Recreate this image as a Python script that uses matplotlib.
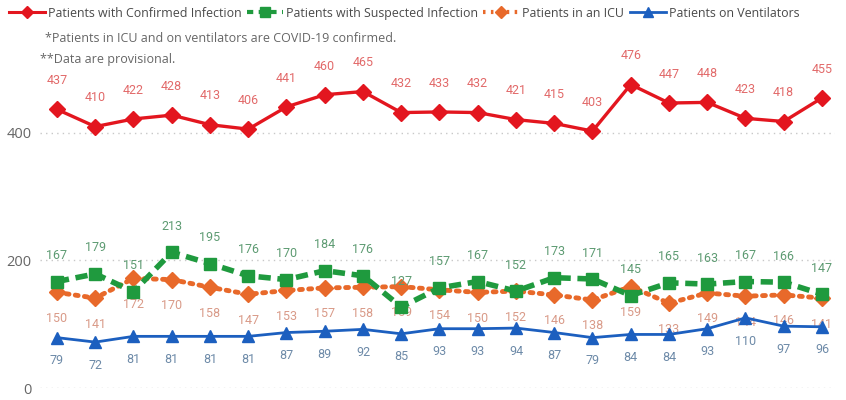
import matplotlib
matplotlib.use("Agg")
import matplotlib.pyplot as plt
from matplotlib.lines import Line2D

confirmed = [437, 410, 422, 428, 413, 406, 441, 460, 465, 432, 433, 432, 421, 415, 403, 476, 447, 448, 423, 418, 455]
suspected = [167, 179, 151, 213, 195, 176, 170, 184, 176, 127, 157, 167, 152, 173, 171, 145, 165, 163, 167, 166, 147]
icu = [150, 141, 172, 170, 158, 147, 153, 157, 158, 159, 154, 150, 152, 146, 138, 159, 133, 149, 144, 146, 141]
vent = [79, 72, 81, 81, 81, 81, 87, 89, 92, 85, 93, 93, 94, 87, 79, 84, 84, 93, 110, 97, 96]
yticks = [0, 200, 400]
names = ["Patients with Confirmed Infection", "Patients with Suspected Infection",
         "Patients in an ICU", "Patients on Ventilators"]
notes = ["*Patients in ICU and on ventilators are COVID-19 confirmed.", "**Data are provisional."]

plt.rcParams['font.family'] = ['Open Sans', 'DejaVu Sans']

RED, GREEN, ORANGE, BLUE = "#e3161f", "#1f9a3e", "#e8692a", "#1c5fbf"
LRED, LGREEN, LORANGE, LBLUE = "#e26a6a", "#5d9b72", "#d99a88", "#6d8aa8"

fig = plt.figure(figsize=(8.46, 4.0), dpi=100)
ax = fig.add_axes([40/846, 12/400, (835-40)/846, (388-45)/400])
x = list(range(len(confirmed)))
ax.set_xlim(-0.444, 20.34)
ax.set_ylim(0, 538)

for s in ax.spines.values():
    s.set_visible(False)
ax.set_xticks([])
ax.set_yticks(yticks)
ax.set_yticklabels([str(t) for t in yticks], fontsize=10.5, color="#666666")
ax.tick_params(axis='y', length=0, pad=6)
for t in yticks:
    ax.axhline(t, color="#c8c8c8", lw=1, ls=(0, (1, 3)), zorder=0)

l_icu, = ax.plot(x, icu, color=ORANGE, lw=3.5, ls=(0, (0.6, 1.3)), dash_capstyle='round',
                 marker='D', ms=8, mec=ORANGE, zorder=3, label=names[2])
l_sus, = ax.plot(x, suspected, color=GREEN, lw=4, ls=(0, (2.2, 1.2)), marker='s', ms=9,
                 zorder=4, label=names[1])
l_vent, = ax.plot(x, vent, color=BLUE, lw=2, marker='^', ms=9, zorder=5, label=names[3])
l_conf, = ax.plot(x, confirmed, color=RED, lw=2.4, marker='D', ms=8, zorder=6, label=names[0])

fs = 9
for xi, v in zip(x, confirmed):
    ax.annotate(str(v), (xi, v), xytext=(0, 16), textcoords='offset points', ha='center',
                va='bottom', fontsize=fs, color=LRED, family='Roboto')
for xi, v in zip(x, suspected):
    ax.annotate(str(v), (xi, v), xytext=(0, 14), textcoords='offset points', ha='center',
                va='bottom', fontsize=fs, color=LGREEN, family='Roboto')
for xi, v in zip(x, icu):
    ax.annotate(str(v), (xi, v), xytext=(0, -14), textcoords='offset points', ha='center',
                va='top', fontsize=fs, color=LORANGE, family='Roboto')
for xi, v in zip(x, vent):
    ax.annotate(str(v), (xi, v), xytext=(0, -12), textcoords='offset points', ha='center',
                va='top', fontsize=fs, color=LBLUE, family='Roboto')

handles = [Line2D([], [], color=RED, lw=2.2, marker='D', ms=6),
           Line2D([], [], color=GREEN, lw=3, ls=(0, (1.5, 1.3)), marker='s', ms=7),
           Line2D([], [], color=ORANGE, lw=3, ls=(0, (0.6, 1.3)), marker='D', ms=6),
           Line2D([], [], color=BLUE, lw=2, marker='^', ms=7)]
fig.legend(handles, names, loc='upper left', bbox_to_anchor=(0.0, 1.005), ncol=4, frameon=False,
           fontsize=8.9, handlelength=2.9, handletextpad=0.25, columnspacing=0.45,
           borderaxespad=0.3, labelcolor="#4a4a4a")

fig.text(45/846, 1 - 38/400, notes[0], fontsize=9, color="#666666", va='center', ha='left')
fig.text(40/846, 1 - 59/400, notes[1], fontsize=9, color="#666666", va='center', ha='left')

fig.savefig("out.png", dpi=100)
